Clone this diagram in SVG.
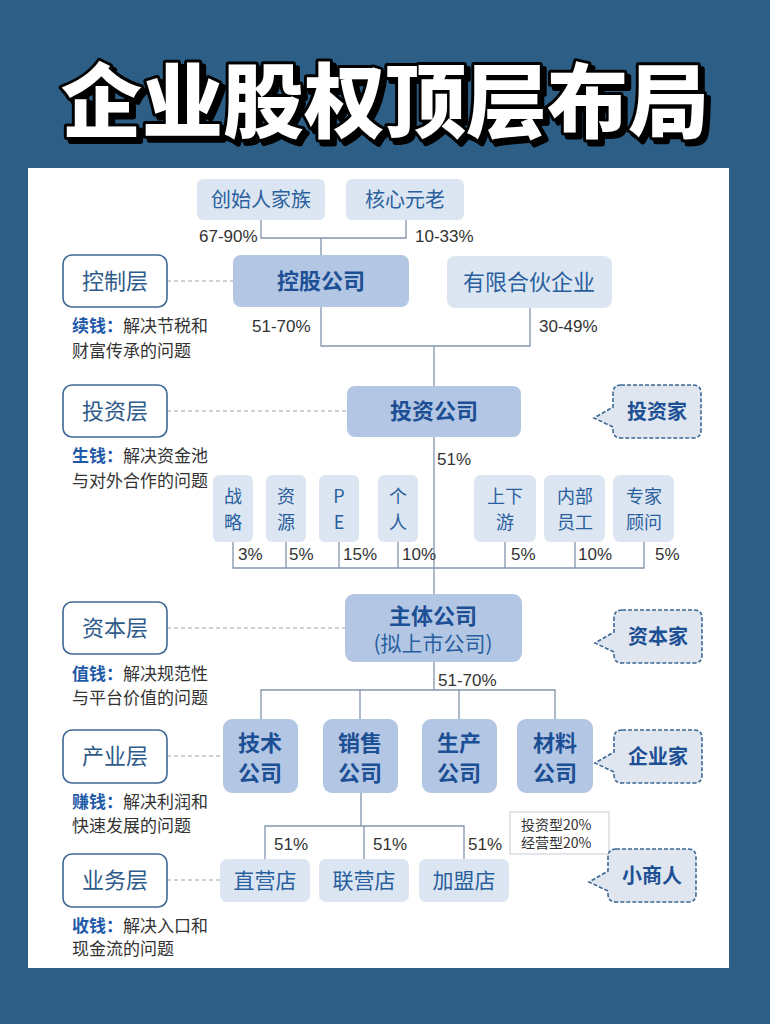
<svg xmlns="http://www.w3.org/2000/svg" xmlns:xlink="http://www.w3.org/1999/xlink" width="770" height="1024" viewBox="0 0 770 1024">
<defs>
<style>
.cjk{font-family:"Noto Sans CJK SC","Noto Sans",sans-serif}
.num{font-family:"Liberation Sans",Arial,sans-serif;font-size:17px;fill:#333}
.lbox{fill:#ffffff;stroke:#3d6894;stroke-width:1.6}
.ltxt{font-family:"Noto Sans CJK SC",sans-serif;font-size:22px;fill:#2f5b8a;text-anchor:middle}
.desc{font-family:"Noto Sans CJK SC",sans-serif;font-size:17px;fill:#333}
.key{fill:#1f5aa8;font-weight:700}
.light{fill:#dce6f2}
.dark{fill:#b3c7e5}
.ntxt{font-family:"Noto Sans CJK SC",sans-serif;fill:#2a5f9e;text-anchor:middle}
.btxt{font-family:"Noto Sans CJK SC",sans-serif;fill:#1d4f94;font-weight:700;text-anchor:middle}
.conn{fill:none;stroke:#8295ac;stroke-width:1.3}
.dash{fill:none;stroke:#9aa3ad;stroke-width:1.2;stroke-dasharray:4 3}
.bub{fill:#dfe6ef;stroke:#3d6894;stroke-width:1.6;stroke-dasharray:4 2}
</style>
<filter id="shadow" x="-5%" y="-20%" width="115%" height="150%">
<feDropShadow dx="4" dy="4" stdDeviation="0.5" flood-color="#000" flood-opacity="1"/>
</filter>
<path id="bubble" d="M8,0 H80 Q88,0 88,8 V45 Q88,53 80,53 H8 Q0,53 0,45 V42 L-19,33 L0,22 V8 Q0,0 8,0 Z"/>
</defs>

<rect x="0" y="0" width="770" height="1024" fill="#2d5f86"/>
<rect x="28" y="168" width="701" height="800" fill="#ffffff"/>

<g id="title" class="cjk" font-size="81" font-weight="900" text-anchor="middle">
<text x="385" y="131" fill="#fff" stroke="#000" stroke-width="6" stroke-linejoin="round" paint-order="stroke" filter="url(#shadow)">企业股权顶层布局</text>
</g>

<g id="connectors">
<path class="conn" d="M261,220 V238 H406 V220 M321,238 V255"/>
<path class="conn" d="M321,307 V346 H530 V308 M434,346 V386"/>
<path class="conn" d="M434,437 V594"/>
<path class="conn" d="M233,542 V568 H644 V542 M286,542 V568 M339,542 V568 M398,542 V568 M505,542 V568 M575,542 V568"/>
<path class="conn" d="M434,662 V690 M261,719 V690 H555 V719 M360,690 V719 M459,690 V719"/>
<path class="conn" d="M361,793 V826 M265,859 V826 H464 V859 M364,826 V859"/>
<path class="dash" d="M167,281 H233 M167,411 H347 M167,628 H345 M167,756 H223 M167,880 H220"/>
</g>

<g id="layer-control">
<rect class="lbox" x="63" y="255" width="104" height="52" rx="9"/>
<text class="ltxt" x="115" y="289">控制层</text>
<text class="desc" x="72" y="332"><tspan class="key">续钱：</tspan>解决节税和</text>
<text class="desc" x="72" y="357">财富传承的问题</text>
</g>
<g id="layer-invest">
<rect class="lbox" x="63" y="385" width="104" height="52" rx="9"/>
<text class="ltxt" x="115" y="419">投资层</text>
<text class="desc" x="72" y="462"><tspan class="key">生钱：</tspan>解决资金池</text>
<text class="desc" x="72" y="487">与对外合作的问题</text>
</g>
<g id="layer-capital">
<rect class="lbox" x="63" y="602" width="104" height="52" rx="9"/>
<text class="ltxt" x="115" y="636">资本层</text>
<text class="desc" x="72" y="680"><tspan class="key">值钱：</tspan>解决规范性</text>
<text class="desc" x="72" y="704">与平台价值的问题</text>
</g>
<g id="layer-industry">
<rect class="lbox" x="63" y="730" width="104" height="53" rx="9"/>
<text class="ltxt" x="115" y="764">产业层</text>
<text class="desc" x="72" y="808"><tspan class="key">赚钱：</tspan>解决利润和</text>
<text class="desc" x="72" y="832">快速发展的问题</text>
</g>
<g id="layer-business">
<rect class="lbox" x="63" y="854" width="104" height="53" rx="9"/>
<text class="ltxt" x="115" y="888">业务层</text>
<text class="desc" x="72" y="932"><tspan class="key">收钱：</tspan>解决入口和</text>
<text class="desc" x="72" y="955">现金流的问题</text>
</g>

<g id="founder">
<rect class="light" x="197" y="179" width="128" height="41" rx="6"/>
<text class="ntxt" x="261" y="207" font-size="20">创始人家族</text>
<text class="num" x="199" y="242">67-90%</text>
</g>
<g id="elder">
<rect class="light" x="346" y="179" width="118" height="41" rx="6"/>
<text class="ntxt" x="405" y="207" font-size="20">核心元老</text>
<text class="num" x="415" y="242">10-33%</text>
</g>
<g id="holding">
<rect class="dark" x="233" y="255" width="176" height="52" rx="8"/>
<text class="btxt" x="321" y="289" font-size="22">控股公司</text>
<text class="num" x="252" y="332">51-70%</text>
</g>
<g id="partnership">
<rect class="light" x="447" y="256" width="165" height="52" rx="8"/>
<text class="ntxt" x="529" y="290" font-size="22">有限合伙企业</text>
<text class="num" x="539" y="332">30-49%</text>
</g>
<g id="investco">
<rect class="dark" x="347" y="386" width="174" height="51" rx="8"/>
<text class="btxt" x="434" y="419" font-size="22">投资公司</text>
<text class="num" x="437" y="465">51%</text>
</g>

<g id="inv-strategy">
<rect class="light" x="213" y="475" width="40" height="67" rx="6"/>
<text class="ntxt" x="233" y="503" font-size="18">战</text>
<text class="ntxt" x="233" y="529" font-size="18">略</text>
<text class="num" x="238" y="560">3%</text>
</g>
<g id="inv-resource">
<rect class="light" x="266" y="475" width="40" height="67" rx="6"/>
<text class="ntxt" x="286" y="503" font-size="18">资</text>
<text class="ntxt" x="286" y="529" font-size="18">源</text>
<text class="num" x="289" y="560">5%</text>
</g>
<g id="inv-pe">
<rect class="light" x="319" y="475" width="40" height="67" rx="6"/>
<text class="ntxt" x="339" y="503" font-size="18">P</text>
<text class="ntxt" x="339" y="529" font-size="18">E</text>
<text class="num" x="343" y="560">15%</text>
</g>
<g id="inv-person">
<rect class="light" x="378" y="475" width="40" height="67" rx="6"/>
<text class="ntxt" x="398" y="503" font-size="18">个</text>
<text class="ntxt" x="398" y="529" font-size="18">人</text>
<text class="num" x="402" y="560">10%</text>
</g>
<g id="inv-chain">
<rect class="light" x="474" y="475" width="62" height="67" rx="7"/>
<text class="ntxt" x="505" y="503" font-size="18">上下</text>
<text class="ntxt" x="505" y="529" font-size="18">游</text>
<text class="num" x="511" y="560">5%</text>
</g>
<g id="inv-staff">
<rect class="light" x="544" y="475" width="61" height="67" rx="7"/>
<text class="ntxt" x="575" y="503" font-size="18">内部</text>
<text class="ntxt" x="575" y="529" font-size="18">员工</text>
<text class="num" x="578" y="560">10%</text>
</g>
<g id="inv-expert">
<rect class="light" x="613" y="475" width="61" height="67" rx="7"/>
<text class="ntxt" x="644" y="503" font-size="18">专家</text>
<text class="ntxt" x="644" y="529" font-size="18">顾问</text>
<text class="num" x="655" y="560">5%</text>
</g>

<g id="mainco">
<rect class="dark" x="345" y="594" width="177" height="68" rx="9"/>
<text class="btxt" x="433" y="624" font-size="22">主体公司</text>
<text class="ntxt" x="433" y="651" font-size="21">(拟上市公司)</text>
<text class="num" x="438" y="686">51-70%</text>
</g>

<g id="tech">
<rect class="dark" x="223" y="719" width="75" height="74" rx="9"/>
<text class="btxt" x="260" y="751" font-size="22">技术</text>
<text class="btxt" x="260" y="781" font-size="22">公司</text>
</g>
<g id="sales">
<rect class="dark" x="323" y="719" width="75" height="74" rx="9"/>
<text class="btxt" x="360" y="751" font-size="22">销售</text>
<text class="btxt" x="360" y="781" font-size="22">公司</text>
</g>
<g id="production">
<rect class="dark" x="422" y="719" width="75" height="74" rx="9"/>
<text class="btxt" x="459" y="751" font-size="22">生产</text>
<text class="btxt" x="459" y="781" font-size="22">公司</text>
</g>
<g id="material">
<rect class="dark" x="517" y="719" width="76" height="74" rx="9"/>
<text class="btxt" x="555" y="751" font-size="22">材料</text>
<text class="btxt" x="555" y="781" font-size="22">公司</text>
</g>

<g id="note">
<rect x="510" y="812" width="99" height="42" fill="#fff" stroke="#c8ccd2" stroke-width="1"/>
<text class="cjk" x="521" y="830" font-size="14" fill="#333">投资型20%</text>
<text class="cjk" x="521" y="848" font-size="14" fill="#333">经营型20%</text>
</g>

<g id="direct">
<rect class="light" x="220" y="859" width="90" height="43" rx="7"/>
<text class="ntxt" x="265" y="888" font-size="21">直营店</text>
<text class="num" x="274" y="850">51%</text>
</g>
<g id="joint">
<rect class="light" x="319" y="859" width="90" height="43" rx="7"/>
<text class="ntxt" x="364" y="888" font-size="21">联营店</text>
<text class="num" x="373" y="850">51%</text>
</g>
<g id="franchise">
<rect class="light" x="419" y="859" width="90" height="43" rx="7"/>
<text class="ntxt" x="464" y="888" font-size="21">加盟店</text>
<text class="num" x="468" y="850">51%</text>
</g>

<g id="bubble-investor">
<use xlink:href="#bubble" class="bub" transform="translate(613,385)"/>
<text class="btxt" x="657" y="419" font-size="20">投资家</text>
</g>
<g id="bubble-capitalist">
<use xlink:href="#bubble" class="bub" transform="translate(614,610)"/>
<text class="btxt" x="658" y="644" font-size="20">资本家</text>
</g>
<g id="bubble-entrepreneur">
<use xlink:href="#bubble" class="bub" transform="translate(614,730)"/>
<text class="btxt" x="658" y="764" font-size="20">企业家</text>
</g>
<g id="bubble-merchant">
<use xlink:href="#bubble" class="bub" transform="translate(608,849)"/>
<text class="btxt" x="652" y="883" font-size="20">小商人</text>
</g>
</svg>
